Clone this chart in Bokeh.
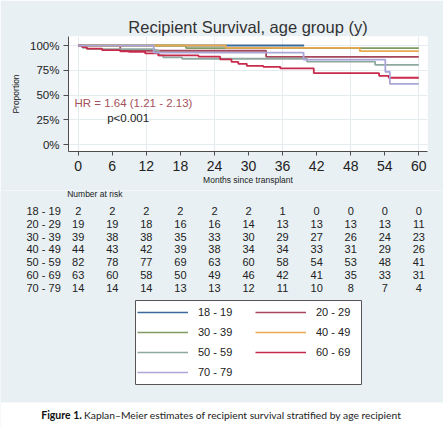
from bokeh.plotting import figure
from bokeh.layouts import column
from bokeh.models import (Range1d, FixedTicker, NumeralTickFormatter, Label,
                          Legend, LegendItem)
from bokeh.embed import file_html
from bokeh.resources import INLINE
from bokeh.core.properties import value

# ---------------- data ----------------
groups = ["18 - 19", "20 - 29", "30 - 39", "40 - 49", "50 - 59", "60 - 69", "70 - 79"]
month_ticks = [0, 6, 12, 18, 24, 30, 36, 42, 48, 54, 60]

# Kaplan-Meier step curves (months, survival after each step)
km_t_18_19 = [0, 39.8]
km_s_18_19 = [1.0, 1.0]
km_t_20_29 = [0, 7.4, 33.1, 60]
km_s_20_29 = [1.0, 0.947, 0.886, 0.886]
km_t_30_39 = [0, 19.0, 60]
km_s_30_39 = [1.0, 0.974, 0.974]
km_t_40_49 = [0, 26.0, 49.6, 60]
km_s_40_49 = [1.0, 0.977, 0.944, 0.944]
km_t_50_59 = [0, 0.8, 1.6, 13.5, 14.2, 15.0, 18.3, 40.3, 52.3, 60]
km_s_50_59 = [1.0, 0.976, 0.963, 0.95, 0.90, 0.88, 0.866, 0.838, 0.805, 0.805]
km_t_60_69 = [0, 0.7, 1.5, 4.2, 7.4, 8.9, 11.8, 14.1, 21.2, 25.0, 27.0, 28.2, 29.7,
              32.6, 35.6, 41.5, 53.0, 54.7, 60]
km_s_60_69 = [1.0, 0.984, 0.968, 0.953, 0.942, 0.936, 0.92, 0.90, 0.887, 0.86, 0.835,
              0.815, 0.795, 0.785, 0.768, 0.72, 0.694, 0.674, 0.674]
km_t_70_79 = [0, 13.3, 39.7, 54.1, 54.9, 60]
km_s_70_79 = [1.0, 0.929, 0.857, 0.735, 0.612, 0.612]

# number at risk
risk_18_19 = [2, 2, 2, 2, 2, 2, 1, 0, 0, 0, 0]
risk_20_29 = [19, 19, 18, 16, 16, 14, 13, 13, 13, 13, 11]
risk_30_39 = [39, 38, 38, 35, 33, 30, 29, 27, 26, 24, 23]
risk_40_49 = [44, 43, 42, 39, 38, 34, 34, 33, 31, 29, 26]
risk_50_59 = [82, 78, 77, 69, 63, 60, 58, 54, 53, 48, 41]
risk_60_69 = [63, 60, 58, 50, 49, 46, 42, 41, 35, 33, 31]
risk_70_79 = [14, 14, 14, 13, 13, 12, 11, 10, 8, 7, 4]

y_ticks = [0, 0.25, 0.5, 0.75, 1.0]
title_text = "Recipient Survival, age group (y)"
x_label = "Months since transplant"
y_label = "Proportion"
hr_text = "HR = 1.64 (1.21 - 2.13)"
p_text = "p<0.001"
risk_header = "Number at risk"
caption_bold = "Figure 1."
caption_text = "Kaplan\u2013Meier estimates of recipient survival stratified by age recipient"

km_times = [km_t_18_19, km_t_20_29, km_t_30_39, km_t_40_49, km_t_50_59, km_t_60_69, km_t_70_79]
km_surv = [km_s_18_19, km_s_20_29, km_s_30_39, km_s_40_49, km_s_50_59, km_s_60_69, km_s_70_79]
risk_rows = [risk_18_19, risk_20_29, risk_30_39, risk_40_49, risk_50_59, risk_60_69, risk_70_79]

# ---------------- styles / layout ----------------
colors = ["#3d6a9c", "#a5465a", "#7f9c62", "#eaa94f", "#8fa89f", "#c82a4c", "#aaa7d8"]
BG = "#e8f0f3"
FONT = "Liberation Sans"
TXT = "#222222"

X0_PX = 77.7          # image x of month 0
PX_PER_MONTH = 5.677


def px_to_month(px):
    return (px - X0_PX) / PX_PER_MONTH


def px_to_prop(py):
    return (144.0 - py) / 99.0


def no_align(fig):
    try:
        fig.frame_align = False
    except Exception:
        pass


# ---------------- KM figure ----------------
W = 443
SPLIT = 190           # image y where the second panel starts
HA = SPLIT
FL, FR, FT, FB = 68, 427, 36, 151   # plot frame edges (px)
p = figure(width=W, height=HA, output_backend="svg", toolbar_location=None,
           x_range=Range1d(px_to_month(FL), px_to_month(FR)),
           y_range=Range1d(px_to_prop(FB), px_to_prop(FT)),
           min_border_left=FL, min_border_right=W - FR, min_border_top=FT,
           min_border_bottom=HA - FB)
no_align(p)
p.background_fill_color = "white"
p.border_fill_color = BG
p.outline_line_color = None

p.title.text = title_text
p.title.align = "center"
p.title.text_font = FONT
p.title.text_font_size = "16.5px"
p.title.text_font_style = "normal"
p.title.text_color = "#333333"
p.title.standoff = 2

xa = p.xaxis[0]
xa.ticker = FixedTicker(ticks=month_ticks)
xa.minor_tick_line_color = None
xa.major_tick_in = 0
xa.major_tick_out = 4
xa.major_label_standoff = 5
xa.major_label_text_font = FONT
xa.major_label_text_font_size = "14px"
xa.major_label_text_color = TXT
xa.axis_line_color = "#4d4d4d"
xa.major_tick_line_color = "#4d4d4d"
xa.axis_label = x_label
xa.axis_label_text_font = FONT
xa.axis_label_text_font_size = "8.5px"
xa.axis_label_text_font_style = "normal"
xa.axis_label_text_color = TXT
xa.axis_label_standoff = 1

ya = p.yaxis[0]
ya.ticker = FixedTicker(ticks=y_ticks)
ya.formatter = NumeralTickFormatter(format="0%")
ya.minor_tick_line_color = None
ya.major_tick_in = 0
ya.major_tick_out = 5
ya.major_label_standoff = 4
ya.major_label_text_font = FONT
ya.major_label_text_font_size = "11.5px"
ya.major_label_text_color = TXT
ya.axis_line_color = "#4d4d4d"
ya.major_tick_line_color = "#4d4d4d"
ya.axis_label = y_label
ya.axis_label_text_font = FONT
ya.axis_label_text_font_size = "8.5px"
ya.axis_label_text_font_style = "normal"
ya.axis_label_text_color = TXT
ya.axis_label_standoff = 6

p.xgrid.ticker = FixedTicker(ticks=[0, 12, 24, 36, 48, 60])
p.xgrid.grid_line_color = "#e4ecf0"
p.ygrid.grid_line_color = "#e4ecf0"

for t, s, c in zip(km_times, km_surv, colors):
    p.step(x=t, y=s, mode="after", line_color=c, line_width=1.8)

p.add_layout(Label(x=px_to_month(74), y=px_to_prop(102), text=hr_text,
                   text_font=FONT, text_font_size="11.5px", text_color="#a5525c",
                   text_baseline="middle", text_align="left"))
p.add_layout(Label(x=px_to_month(106.7), y=px_to_prop(117), text=p_text,
                   text_font=FONT, text_font_size="11.5px", text_color=TXT,
                   text_baseline="middle", text_align="left"))

# ---------------- risk table / legend / caption panel ----------------
BOT = 427
HB = BOT - SPLIT
q = figure(width=W, height=HB, output_backend="svg", toolbar_location=None,
           x_range=Range1d(px_to_month(0), px_to_month(W)),
           y_range=Range1d(BOT, SPLIT),
           x_axis_location=None, y_axis_location=None,
           min_border_left=0, min_border_right=0, min_border_top=0, min_border_bottom=0)
no_align(q)
q.background_fill_color = BG
q.border_fill_color = BG
q.outline_line_color = None
q.grid.visible = False

q.text(x=[px_to_month(66.7)], y=[193], text=[risk_header], text_font=value(FONT),
       text_font_size="8.5px", text_color=TXT, text_baseline="middle", text_align="left")

ROW0 = 210.6
ROW_DY = 12.78
lab_x, lab_y, lab_t = [], [], []
num_x, num_y, num_t = [], [], []
for i, (g, row) in enumerate(zip(groups, risk_rows)):
    yy = ROW0 + i * ROW_DY
    lab_x.append(px_to_month(26))
    lab_y.append(yy)
    lab_t.append(g)
    for m, v in zip(month_ticks, row):
        num_x.append(m)
        num_y.append(yy)
        num_t.append(str(v))
q.text(x=lab_x, y=lab_y, text=lab_t, text_font=value(FONT), text_font_size="11px",
       text_color=TXT, text_baseline="middle", text_align="left")
q.text(x=num_x, y=num_y, text=num_t, text_font=value(FONT), text_font_size="11px",
       text_color=TXT, text_baseline="middle", text_align="center")

# legend box
BOX_L, BOX_R, BOX_T, BOX_B = 135, 361, 300, 384
q.quad(left=[px_to_month(BOX_L)], right=[px_to_month(BOX_R)], top=[BOX_T], bottom=[BOX_B],
       fill_color="white", line_color="#555555", line_width=1)

# series drawn again only to feed the legend (they fall outside this panel's range)
leg_r = [q.step(x=t, y=s, mode="after", line_color=c, line_width=1.6)
         for t, s, c in zip(km_times, km_surv, colors)]

PAD = 4
ITEM_H = 16
SPACING = 4
NROWS = 4
LEG_TOP = BOX_T - 4
leg_h = 2 * PAD + NROWS * ITEM_H + (NROWS - 1) * SPACING
legend = Legend(items=[LegendItem(label=g, renderers=[r]) for g, r in zip(groups, leg_r)],
                location=(141 - PAD, BOT - (LEG_TOP + leg_h)), ncols=2,
                orientation="horizontal",
                padding=PAD, margin=0, spacing=SPACING,
                glyph_width=51, glyph_height=ITEM_H, label_height=ITEM_H,
                label_width=53, label_standoff=10, label_text_font=FONT,
                label_text_font_size="11px", label_text_color=TXT,
                border_line_color=None, background_fill_alpha=0)
q.add_layout(legend)

# caption band
q.quad(left=[px_to_month(0)], right=[px_to_month(W)], top=[402], bottom=[BOT],
       fill_color="white", line_color=None)
q.text(x=[px_to_month(40.7)], y=[414], text=[caption_bold], text_font=value("Lato"),
       text_font_size="10.5px", text_font_style="bold", text_color="#111111",
       text_baseline="middle", text_align="left")
q.text(x=[px_to_month(83.5)], y=[414], text=[caption_text], text_font=value("Lato"),
       text_font_size="10.3px", text_color=TXT, text_baseline="middle", text_align="left")

layout = column(p, q, spacing=0)
open("out.html", "w").write(file_html(layout, INLINE))
